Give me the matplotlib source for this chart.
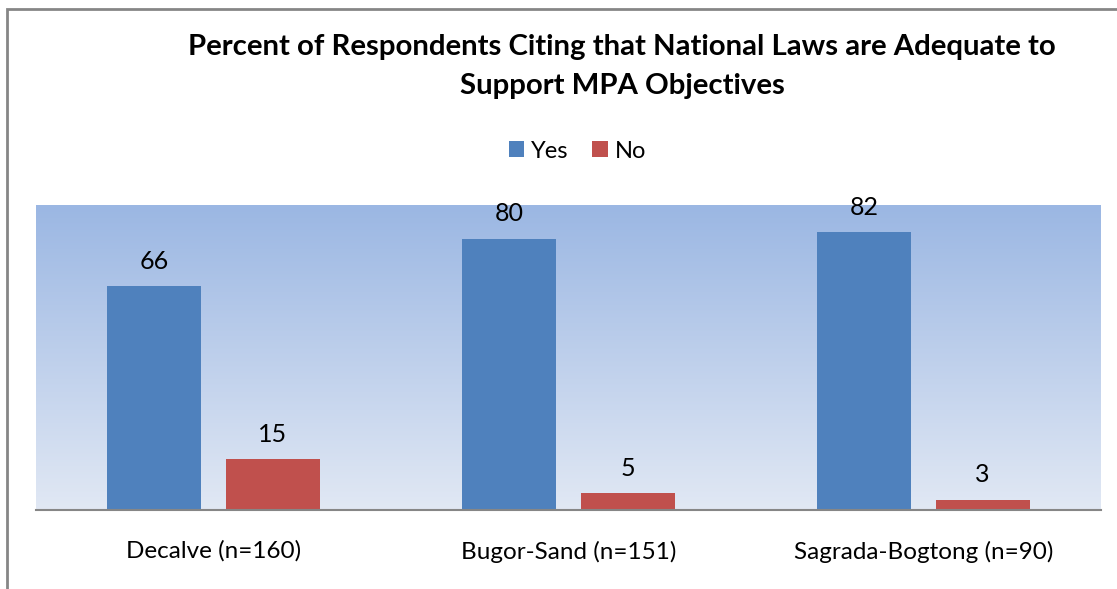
import numpy as np
import matplotlib
matplotlib.use("Agg")
from matplotlib import pyplot as plt
from matplotlib.colors import LinearSegmentedColormap
from matplotlib.patches import Rectangle

categories = ["Decalve (n=160)", "Bugor-Sand (n=151)", "Sagrada-Bogtong (n=90)"]
yes_vals = [66, 80, 82]
no_vals = [15, 5, 3]

plt.rcParams['font.family'] = ['Lato', 'DejaVu Sans']

fig = plt.figure(figsize=(11.17, 5.89), dpi=100)
ax = fig.add_axes([36 / 1117, 1 - 510 / 589, 1065 / 1117, 305 / 589])

# gradient background for the plot area
grad = LinearSegmentedColormap.from_list("bg", ["#e1e8f4", "#9bb7e3"])
ax.imshow(np.linspace(0, 1, 256).reshape(-1, 1), cmap=grad, aspect='auto',
          extent=(-0.5, 2.5, 0, 90), origin='lower', zorder=0)

x = np.arange(len(categories))
w = 0.265
off = (w + 0.068) / 2
b1 = ax.bar(x - off, yes_vals, w, color="#4f81bd", label="Yes", zorder=2)
b2 = ax.bar(x + off, no_vals, w, color="#c0504d", label="No", zorder=2)
for bars in (b1, b2):
    for r in bars:
        ax.text(r.get_x() + r.get_width() / 2, r.get_height() + 4, "%d" % r.get_height(),
                ha='center', va='bottom', fontsize=18)

ax.set_xlim(-0.5, 2.5)
ax.set_ylim(0, 90)
ax.set_yticks([])
ax.set_xticks(x)
ax.set_xticklabels(categories, fontsize=17.5)
ax.tick_params(axis='x', length=0, pad=22)
for s in ['top', 'right', 'left']:
    ax.spines[s].set_visible(False)
ax.spines['bottom'].set_color("#868686")
ax.spines['bottom'].set_linewidth(1.5)

fig.text(0.557, 1 - 47 / 589, "Percent of Respondents Citing that National Laws are Adequate to",
         ha='center', va='center', fontsize=21.2, fontweight='bold')
fig.text(0.557, 1 - 86 / 589, "Support MPA Objectives",
         ha='center', va='center', fontsize=21.2, fontweight='bold')

fig.legend(handles=[b1, b2], loc='center', bbox_to_anchor=(0.517, 1 - 151 / 589), ncol=2,
           frameon=False, fontsize=17, handlelength=0.65, handleheight=0.65,
           handletextpad=0.3, columnspacing=1.0)

# chart border
fig.patches.append(Rectangle((7 / 1117, -0.1), 1.2, 1 - 9 / 589 + 0.1, transform=fig.transFigure,
                             fill=False, edgecolor="#868686", linewidth=2))

fig.savefig("out.png")
